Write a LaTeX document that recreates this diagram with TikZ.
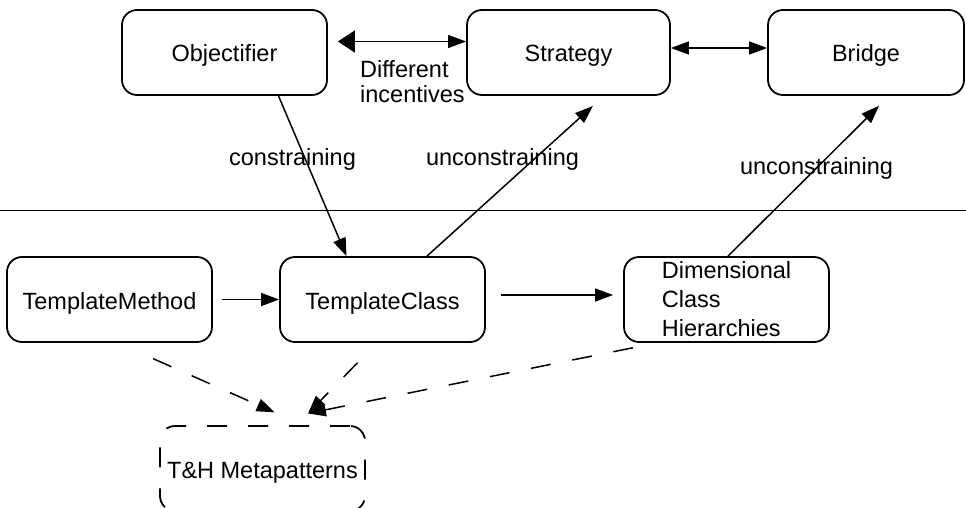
\documentclass[tikz,border=0pt]{standalone}
\usepackage{fontspec}
\setmainfont{Liberation Sans}
\usetikzlibrary{arrows.meta}
\tikzset{
  boxbase/.style={draw, line width=1.8pt, rounded corners=15pt, minimum width=205pt, minimum height=85pt, inner sep=0pt},
  pat/.style={boxbase, text height=19pt, text depth=0pt},
  lbl/.style={inner sep=0pt},
  rel/.style={line width=1.5pt, -{Triangle[length=18pt,width=13pt]}},
  weak/.style={rel, dash pattern=on 20pt off 22pt},
}
\begin{document}
\begin{tikzpicture}[x=1pt,y=-1pt,font=\fontsize{23.5}{25}\selectfont] % metapattern map
  \clip (0,0) rectangle (966,508);
  \node[pat] (obj) at (224.5,52.5) {Objectifier};
  \node[pat, minimum width=203pt] (strat) at (568.5,52.5) {Strategy};
  \node[pat, minimum width=196pt] (bridge) at (866,52.5) {Bridge};
  \draw[line width=1.8pt] (0,210.5) -- (966,210.5);
  \node[pat] (tm) at (109.5,299.5) {TemplateMethod};
  \node[pat] (tc) at (382.5,299.5) {TemplateClass};
  \node[boxbase, align=left, font=\fontsize{23.5}{29}\selectfont] (dim) at (726.5,299.5) {Dimensional\\Class\\Hierarchies};
  \node[pat, dash pattern=on 20pt off 21pt] (th) at (262.5,468.5) {T\&H Metapatterns};

  \node[lbl, anchor=north west, align=left] (incent) at (360,60) {Different\\incentives};
  \node[lbl, anchor=base] (lcon) at (292.5,165) {constraining};
  \node[lbl, anchor=base] (lunc) at (502.5,165) {unconstraining};
  \node[lbl, anchor=base] (lunctwo) at (816.5,175) {unconstraining};

  \draw[line width=1.5pt, {Triangle[length=17pt,width=22pt]}-{Triangle[length=18pt,width=13pt]}, shorten <=10pt] ([yshift=11pt]obj.east) -- ([yshift=11pt]strat.west);
  \draw[line width=1.5pt, {Triangle[length=18pt,width=13pt]}-{Triangle[length=18pt,width=13pt]}] ([yshift=4.5pt]strat.east) -- ([yshift=4.5pt]bridge.west);
  \draw[rel] ([xshift=54pt]obj.south) -- ([xshift=-36pt]tc.north);
  \draw[rel, shorten >=15pt] ([xshift=44.5pt]tc.north) -- ([xshift=35.5pt]strat.south);
  \draw[rel, shorten >=14pt] ([xshift=1.5pt]dim.north) -- ([xshift=23pt]bridge.south);
  \draw[rel, shorten <=9pt] (tm) -- (tc);
  \draw[rel, shorten <=15pt, shorten >=10pt] ([yshift=4.5pt]tc.east) -- ([yshift=4.5pt]dim.west);
  \draw[weak, shorten <=39pt, shorten >=31.6pt] ([xshift=8pt]tm.south) -- ([xshift=41pt]th.north);
  \draw[weak, shorten <=27.7pt, shorten >=16.6pt] ([xshift=-5.5pt]tc.south) -- ([xshift=34pt]th.north);
  \draw[weak, shorten <=24.5pt, shorten >=59pt] ([xshift=-69.5pt]dim.south) -- ([xshift=-12.5pt]th.north);
\end{tikzpicture}
\end{document}
